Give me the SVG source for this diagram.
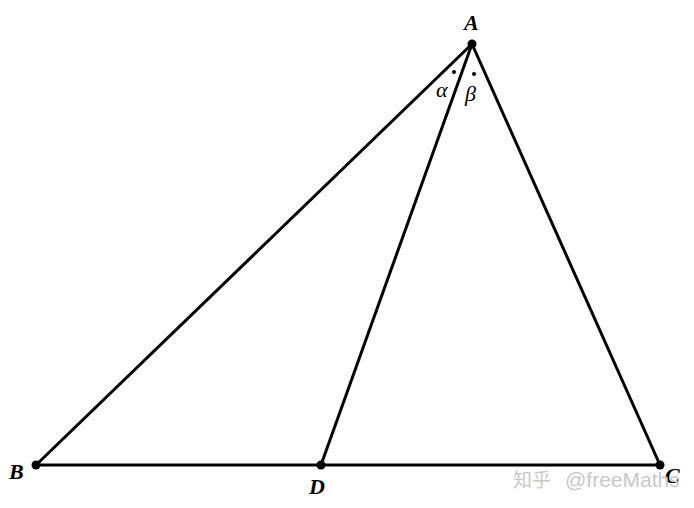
<svg xmlns="http://www.w3.org/2000/svg" width="694" height="508" viewBox="0 0 694 508">
<style>
.ln{stroke:#000;stroke-width:3;fill:none;stroke-linecap:round}
.pt{fill:#000}
.lb{font-family:"Liberation Serif",serif;font-style:italic;font-weight:bold;font-size:22px;fill:#000}
.gk{font-family:"Liberation Serif","DejaVu Serif",serif;font-style:italic;font-size:22px;fill:#000}
.wm{font-family:"Liberation Sans","Noto Sans CJK SC",sans-serif;font-size:19px;fill:#c8c8c8}
</style>
<rect width="694" height="508" fill="#fff"/>
<g id="connectors">
<line class="ln" x1="472" y1="44" x2="36" y2="465"/>
<line class="ln" x1="472" y1="44" x2="660" y2="465"/>
<line class="ln" x1="472" y1="44" x2="321" y2="465"/>
<line class="ln" x1="36" y1="465" x2="660" y2="465"/>
</g>
<g id="A"><circle class="pt" cx="472" cy="44" r="4.5"/><text class="lb" x="464" y="30">A</text></g>
<g id="B"><circle class="pt" cx="36" cy="465" r="4.5"/><text class="lb" x="9" y="479">B</text></g>
<g id="D"><circle class="pt" cx="321" cy="465" r="4.5"/><text class="lb" x="309" y="494">D</text></g>
<g id="C"><circle class="pt" cx="660" cy="465" r="4.5"/><text class="lb" x="665" y="483">C</text></g>
<g id="angles">
<circle class="pt" cx="454" cy="72" r="2"/>
<circle class="pt" cx="474" cy="74" r="2"/>
<text class="gk" x="436" y="97">α</text>
<text class="gk" x="465" y="101">β</text>
</g>
<g id="watermark">
<text class="wm" x="513" y="487">知乎</text>
<text class="wm" x="565" y="487" style="font-size:21px">@freeMaths</text>
</g>
</svg>
